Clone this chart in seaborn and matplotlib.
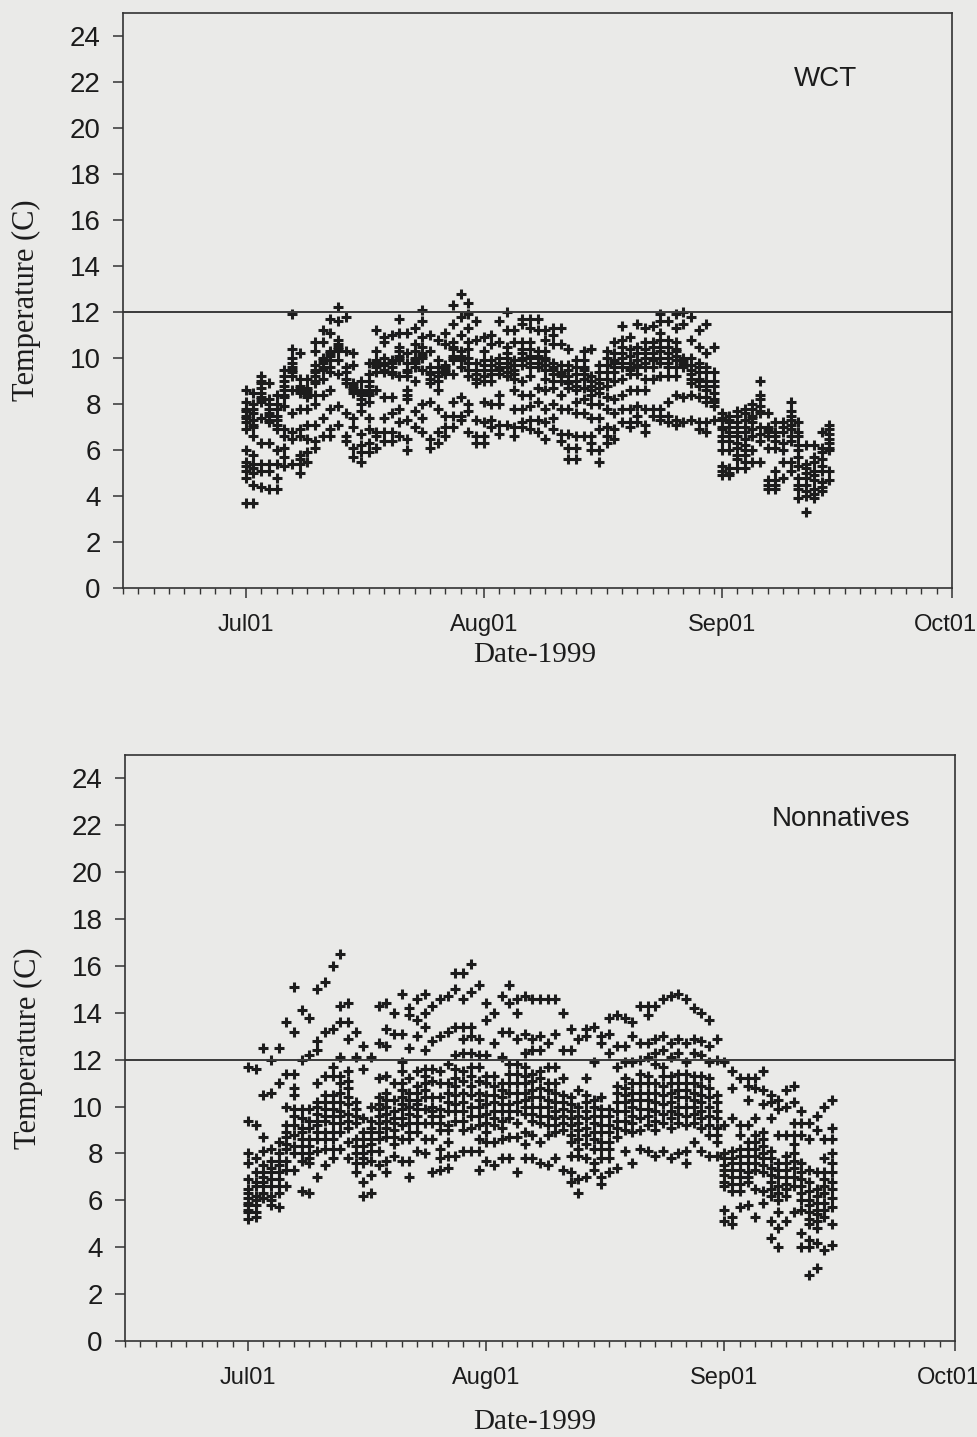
import numpy as np
import pandas as pd
import matplotlib
matplotlib.use("Agg")
import matplotlib.pyplot as plt
import matplotlib.dates as mdates
from matplotlib.transforms import ScaledTranslation
import seaborn as sns

# ---------------- data (readings per day, deg C) ----------------
wct_july = [
    [8.6, 8.1, 7.8, 7.7, 7.5, 7.4, 7.2, 6.9, 6.0, 5.5, 5.3, 5.1, 4.8, 3.7],
    [8.5, 8.0, 7.8, 7.6, 7.3, 7.1, 7.0, 6.6, 5.8, 5.4, 5.2, 5.0, 4.5, 3.7],
    [9.2, 9.0, 8.9, 8.7, 8.5, 8.3, 8.2, 8.1, 7.4, 6.3, 5.4, 5.1, 4.4],
    [8.9, 8.2, 8.0, 7.8, 7.6, 7.5, 7.3, 7.2, 6.3, 5.4, 5.1, 4.3],
    [8.4, 8.0, 7.8, 7.5, 7.3, 7.1, 6.9, 6.0, 5.4, 4.8, 4.3],
    [9.5, 9.2, 9.0, 8.8, 8.6, 8.4, 8.3, 7.9, 6.9, 6.6, 6.1, 5.7, 5.3],
    [11.9, 10.4, 10.0, 9.8, 9.6, 9.5, 9.4, 9.2, 8.6, 7.6, 6.8, 6.5, 5.4],
    [10.2, 9.1, 8.8, 8.7, 8.6, 8.5, 7.8, 6.9, 6.6, 5.8, 5.6, 5.4, 5.0],
    [9.1, 8.7, 8.6, 8.5, 8.4, 8.3, 7.8, 7.1, 6.5, 5.9, 5.5],
    [10.7, 10.3, 9.7, 9.5, 9.4, 9.2, 9.0, 8.9, 8.4, 8.0, 7.1, 6.4, 6.1],
    [11.2, 10.7, 10.0, 9.9, 9.8, 9.6, 9.5, 9.1, 8.4, 7.4, 6.6],
    [11.7, 11.1, 10.3, 10.2, 10.1, 9.9, 9.6, 9.4, 8.6, 7.8, 6.9, 6.6],
    [12.2, 11.6, 10.8, 10.6, 10.5, 10.4, 10.3, 9.9, 9.3, 7.9, 7.1],
    [11.8, 10.3, 9.6, 9.4, 9.1, 8.9, 7.6, 6.6, 6.4],
    [10.2, 9.7, 8.9, 8.8, 8.7, 8.6, 8.5, 7.4, 7.0, 6.1, 5.7],
    [9.0, 8.6, 8.5, 8.4, 8.2, 8.0, 7.7, 6.7, 6.2, 5.9, 5.5],
    [9.8, 9.3, 9.0, 8.8, 8.6, 8.5, 8.4, 8.1, 7.4, 6.9, 6.3, 5.9],
    [11.2, 10.3, 9.9, 9.8, 9.7, 9.6, 9.4, 8.6, 6.8, 6.6, 6.1],
    [10.9, 10.7, 10.0, 9.8, 9.7, 9.5, 9.4, 8.3, 7.4, 6.8, 6.4],
    [11.0, 9.9, 9.8, 9.6, 9.4, 9.3, 8.3, 7.6, 6.8, 6.4],
    [11.7, 11.1, 10.5, 10.3, 10.1, 10.0, 9.9, 9.2, 7.8, 7.2, 6.6],
    [11.1, 10.2, 9.8, 9.5, 9.4, 9.2, 8.6, 8.4, 8.2, 7.3, 6.5, 6.0],
    [11.3, 10.6, 10.3, 10.0, 9.9, 9.8, 9.6, 9.0, 7.7, 7.0],
    [12.1, 11.6, 10.9, 10.5, 10.2, 10.1, 10.0, 9.5, 8.0, 7.4, 6.8],
    [11.0, 10.3, 9.6, 9.4, 9.3, 9.1, 8.9, 8.1, 6.5, 6.1],
    [10.8, 9.9, 9.6, 9.4, 9.2, 9.0, 8.6, 7.8, 6.8, 6.3],
    [11.1, 10.6, 9.7, 9.6, 9.5, 9.4, 9.3, 7.5, 7.0, 6.6],
    [12.3, 11.5, 10.7, 10.5, 10.4, 10.1, 10.0, 9.9, 9.3, 8.1, 7.5, 7.0],
    [12.8, 11.8, 11.0, 10.3, 10.1, 10.0, 9.9, 9.6, 8.3, 7.5, 7.3],
    [12.4, 11.9, 11.3, 10.7, 10.4, 10.0, 9.8, 9.5, 9.2, 8.0, 7.7, 6.8],
    [11.6, 10.8, 9.8, 9.5, 9.3, 9.1, 8.9, 7.3, 6.6, 6.3],
]
wct_august = [
    [10.9, 10.3, 9.9, 9.7, 9.5, 9.2, 9.0, 8.1, 7.2, 6.6, 6.3],
    [11.0, 10.6, 9.9, 9.7, 9.5, 9.3, 9.0, 8.0, 7.3, 7.0],
    [11.6, 10.7, 10.0, 9.8, 9.6, 9.5, 9.3, 8.4, 8.0, 7.1, 6.7],
    [12.0, 11.2, 10.5, 10.2, 10.0, 9.8, 9.6, 9.4, 9.2, 7.1],
    [11.2, 10.7, 9.9, 9.7, 9.5, 9.3, 9.1, 8.6, 7.8, 7.0, 6.6],
    [11.7, 11.5, 10.7, 10.4, 10.2, 10.0, 9.9, 9.7, 9.0, 8.4, 7.8, 7.2, 7.0],
    [11.7, 11.3, 10.7, 10.4, 10.1, 10.0, 9.8, 9.6, 9.2, 8.4, 7.9, 7.3, 6.9],
    [11.7, 11.2, 10.3, 10.1, 10.0, 9.8, 9.6, 8.7, 8.1, 7.3, 6.8],
    [11.2, 10.8, 10.3, 10.0, 9.9, 9.7, 9.5, 9.1, 8.6, 7.8, 7.2, 6.5],
    [11.3, 11.0, 10.6, 9.8, 9.6, 9.5, 9.3, 9.0, 8.7, 8.0, 7.4, 6.9],
    [11.3, 10.6, 9.7, 9.4, 9.3, 9.2, 9.0, 8.4, 7.8, 6.7, 6.4],
    [10.4, 9.7, 9.5, 9.2, 9.0, 8.9, 8.7, 7.8, 6.7, 6.1, 5.6],
    [9.9, 9.6, 9.3, 9.0, 8.8, 8.6, 8.1, 7.6, 6.6, 6.1, 5.6],
    [10.3, 9.9, 9.6, 9.5, 9.3, 9.1, 8.7, 8.2, 7.6, 6.6],
    [10.4, 9.2, 9.0, 8.8, 8.6, 8.4, 8.0, 7.4, 6.6, 6.3, 6.0],
    [9.7, 9.4, 9.1, 8.9, 8.7, 8.5, 8.0, 7.4, 6.9, 6.0, 5.5],
    [10.3, 10.0, 9.7, 9.4, 9.1, 8.8, 8.3, 7.8, 7.0, 6.6, 6.3],
    [10.7, 10.2, 9.9, 9.8, 9.6, 9.4, 9.0, 8.2, 7.6, 6.9, 6.5],
    [11.4, 10.8, 10.5, 10.2, 10.0, 9.8, 9.6, 9.1, 8.4, 7.8, 7.2],
    [10.9, 10.4, 10.1, 9.8, 9.6, 9.5, 9.3, 8.6, 7.8, 7.2, 7.0],
    [11.5, 10.5, 10.2, 9.9, 9.7, 9.6, 9.3, 8.6, 7.9, 7.5, 7.2],
    [11.3, 10.7, 10.4, 10.2, 10.0, 9.8, 9.6, 9.1, 8.6, 7.8, 7.1, 6.8],
    [11.4, 10.7, 10.5, 10.2, 10.0, 9.9, 9.6, 9.1, 7.8, 7.5],
    [11.9, 11.6, 11.1, 10.8, 10.5, 10.3, 10.0, 9.8, 9.2, 7.8, 7.5, 7.3],
    [11.6, 10.8, 10.5, 10.2, 10.0, 9.8, 9.6, 9.2, 8.1, 7.5, 7.2],
    [11.9, 11.3, 10.7, 10.4, 10.3, 10.1, 9.9, 9.6, 9.2, 8.4, 7.3, 7.1],
    [12.0, 11.5, 10.0, 9.9, 9.8, 9.7, 9.6, 8.3, 7.2],
    [11.8, 10.8, 10.0, 9.7, 9.5, 9.3, 9.1, 8.9, 8.4, 7.3],
    [11.2, 10.5, 9.8, 9.6, 9.4, 9.1, 9.0, 8.8, 8.3, 7.2, 6.9],
    [11.5, 10.2, 9.6, 9.4, 9.0, 8.8, 8.6, 8.3, 8.1, 7.2, 6.8],
    [10.5, 9.4, 9.0, 8.8, 8.5, 8.2, 8.1, 7.9, 7.3],
]
wct_september = [
    [7.6, 7.4, 7.3, 7.0, 6.9, 6.6, 6.4, 6.0, 5.3, 5.1, 4.9],
    [7.5, 7.3, 7.2, 7.0, 6.8, 6.6, 6.4, 6.0, 5.2, 5.0, 4.9],
    [7.7, 7.5, 7.2, 7.0, 6.8, 6.6, 6.3, 6.1, 5.8, 5.6, 5.2],
    [7.8, 7.6, 7.3, 7.0, 6.8, 6.5, 6.2, 6.0, 5.8, 5.5, 5.2],
    [8.0, 7.8, 7.5, 7.4, 7.2, 6.9, 6.6, 6.0, 5.5],
    [9.0, 8.4, 8.2, 7.9, 7.7, 7.6, 7.0, 6.7, 6.4, 5.5],
    [7.6, 7.0, 6.9, 6.8, 6.6, 6.1, 4.7, 4.5, 4.3],
    [7.2, 6.8, 6.6, 6.4, 6.1, 5.1, 4.7, 4.5, 4.3],
    [7.2, 7.0, 6.8, 6.3, 6.0, 5.5, 4.8],
    [8.1, 7.7, 7.5, 7.3, 7.1, 6.9, 6.6, 6.4, 5.5, 5.1],
    [7.2, 6.8, 6.6, 6.2, 6.0, 5.7, 5.3, 4.8, 4.5, 4.3, 3.9],
    [6.2, 5.4, 5.2, 5.0, 4.8, 4.5, 4.2, 4.0, 3.3],
    [6.2, 5.7, 5.5, 5.1, 4.9, 4.7, 4.3, 4.1, 3.9],
    [6.8, 6.1, 5.9, 5.6, 5.3, 5.1, 4.6, 4.4, 4.2],
    [7.1, 6.9, 6.7, 6.5, 6.3, 6.1, 6.0, 5.1, 4.7],
]

non_july = [
    [11.7, 9.4, 8.0, 7.6, 6.9, 6.5, 6.3, 6.1, 5.9, 5.8, 5.6, 5.5, 5.2],
    [11.6, 9.2, 7.8, 7.2, 6.8, 6.6, 6.2, 6.0, 5.8, 5.5, 5.3],
    [12.5, 10.5, 8.7, 8.1, 7.5, 7.2, 7.0, 6.8, 6.6, 6.3, 6.1],
    [12.0, 10.6, 8.2, 7.7, 7.4, 7.2, 6.9, 6.6, 6.2, 6.0, 5.8],
    [12.5, 11.0, 8.5, 8.0, 7.7, 7.5, 7.2, 6.9, 6.6, 6.3, 5.7],
    [13.6, 11.4, 10.0, 9.2, 8.9, 8.7, 8.4, 8.2, 7.7, 7.3, 6.6],
    [15.1, 13.2, 11.4, 10.8, 10.5, 9.9, 9.6, 9.2, 8.8, 8.3, 8.0, 7.3],
    [14.1, 12.0, 9.9, 9.5, 9.1, 8.9, 8.6, 8.3, 8.0, 7.7, 6.4],
    [13.8, 12.2, 9.9, 9.4, 9.1, 8.6, 8.3, 8.0, 7.8, 7.6, 6.3],
    [15.0, 12.8, 12.4, 11.0, 10.2, 10.0, 9.7, 9.4, 9.2, 8.9, 8.6, 8.1, 7.0],
    [15.3, 13.2, 11.3, 10.5, 10.2, 9.9, 9.6, 9.4, 8.9, 8.6, 8.2, 7.5],
    [16.0, 13.3, 11.7, 11.3, 10.5, 10.2, 9.9, 9.6, 9.3, 8.9, 8.6, 8.2, 7.8],
    [16.5, 14.3, 13.6, 12.1, 11.3, 11.0, 10.6, 10.2, 9.8, 9.6, 9.3, 8.9, 8.2],
    [14.4, 13.6, 12.9, 11.5, 11.1, 10.8, 10.4, 10.1, 9.7, 9.4, 9.1, 8.5, 7.8],
    [13.2, 12.1, 10.2, 9.9, 9.6, 9.3, 8.6, 8.3, 8.0, 7.6, 7.2],
    [12.6, 11.6, 9.5, 8.9, 8.6, 8.3, 8.0, 7.8, 7.6, 6.8, 6.2],
    [12.1, 10.0, 9.4, 9.1, 8.9, 8.6, 8.4, 8.1, 7.7, 7.1, 6.3],
    [14.3, 12.7, 11.2, 10.4, 10.1, 9.9, 9.6, 9.3, 8.9, 8.6, 8.1, 7.5],
    [14.4, 13.3, 12.6, 11.3, 10.6, 10.3, 10.0, 9.7, 9.4, 9.1, 8.7, 7.7, 7.2],
    [14.0, 13.1, 11.0, 10.3, 9.8, 9.5, 9.3, 9.0, 8.7, 8.4, 7.9],
    [14.8, 13.1, 11.9, 11.5, 11.0, 10.7, 10.4, 10.1, 9.9, 9.5, 9.2, 8.6, 7.7],
    [14.2, 13.9, 12.5, 11.2, 10.6, 10.3, 10.0, 9.7, 9.3, 8.9, 8.6, 7.7, 7.0],
    [14.6, 13.7, 13.0, 11.5, 10.9, 10.6, 10.3, 10.1, 9.9, 9.6, 9.3, 8.9, 8.1],
    [14.8, 14.0, 13.4, 12.4, 11.6, 11.3, 11.0, 10.7, 10.4, 9.9, 9.3, 8.6, 8.0],
    [14.3, 12.8, 11.6, 11.1, 10.4, 10.0, 9.8, 9.6, 9.3, 8.6, 7.2],
    [14.6, 13.0, 11.5, 11.0, 10.4, 9.9, 9.6, 9.3, 9.0, 8.2, 7.8, 7.3],
    [14.7, 13.2, 11.8, 11.0, 10.6, 10.2, 9.8, 9.2, 9.0, 8.5, 7.9, 7.4],
    [15.7, 15.0, 13.4, 12.2, 11.6, 11.2, 10.9, 10.5, 10.1, 9.8, 9.4, 7.9],
    [15.7, 14.6, 13.4, 12.9, 12.3, 11.5, 11.1, 10.6, 10.2, 9.8, 9.4, 9.0, 8.1],
    [16.1, 14.9, 13.4, 13.0, 12.3, 11.7, 11.3, 10.9, 10.5, 10.0, 9.6, 9.1, 8.1],
    [15.2, 12.9, 12.2, 11.7, 11.1, 10.6, 10.3, 10.0, 9.6, 9.2, 8.6, 8.1, 7.3],
]
non_august = [
    [14.4, 13.7, 12.2, 11.3, 11.0, 10.5, 10.1, 9.7, 9.3, 8.9, 8.5, 7.7],
    [14.0, 12.7, 11.3, 10.9, 10.5, 10.2, 9.8, 9.5, 9.2, 8.5, 7.5],
    [14.7, 13.2, 12.1, 11.0, 10.7, 10.4, 10.1, 9.8, 9.4, 9.1, 8.6, 7.8],
    [15.2, 14.4, 13.2, 11.8, 11.4, 11.0, 10.6, 10.1, 9.8, 9.5, 8.7, 7.8],
    [14.6, 14.0, 12.9, 11.8, 11.4, 11.0, 10.6, 10.2, 9.8, 9.3, 8.7, 7.2],
    [14.7, 13.1, 12.3, 11.7, 11.3, 11.0, 10.6, 10.3, 10.0, 9.7, 8.9, 8.4, 7.8],
    [14.6, 12.9, 12.4, 11.4, 11.1, 10.7, 10.4, 10.0, 9.7, 9.4, 8.8, 7.8],
    [14.6, 13.0, 12.4, 11.5, 11.2, 10.8, 10.4, 10.0, 9.6, 9.3, 8.5, 7.6],
    [14.6, 12.7, 11.7, 11.0, 10.7, 10.3, 10.0, 9.6, 9.2, 8.8, 7.5],
    [14.6, 13.1, 11.7, 11.0, 10.6, 10.2, 9.8, 9.5, 9.2, 8.9, 7.8],
    [14.0, 12.4, 11.2, 10.5, 10.2, 9.9, 9.6, 9.3, 9.0, 7.3],
    [13.3, 12.4, 10.4, 10.1, 9.8, 9.5, 9.2, 8.8, 8.5, 7.9, 7.2, 6.8],
    [12.9, 10.7, 10.0, 9.6, 9.3, 9.0, 8.6, 8.2, 7.9, 6.9, 6.3],
    [13.3, 13.0, 11.2, 10.5, 10.2, 9.8, 9.5, 9.1, 8.8, 8.4, 7.8, 7.0],
    [13.4, 11.9, 10.3, 10.0, 9.6, 9.3, 8.9, 8.6, 8.2, 7.6, 7.3],
    [13.0, 12.7, 10.4, 9.9, 9.6, 9.2, 8.9, 8.5, 8.2, 7.8, 7.0, 6.7],
    [13.8, 13.1, 12.3, 9.9, 9.6, 9.2, 8.9, 8.5, 8.2, 7.8, 7.2],
    [13.9, 12.6, 11.7, 10.9, 10.6, 10.2, 9.8, 9.4, 9.1, 8.7, 7.4],
    [13.8, 12.6, 11.9, 11.2, 10.8, 10.5, 10.2, 9.8, 9.4, 9.0, 8.1],
    [13.6, 13.0, 11.9, 11.0, 10.6, 10.3, 10.0, 9.6, 9.3, 8.9, 7.6],
    [14.3, 12.7, 12.0, 11.4, 11.0, 10.6, 10.3, 9.9, 9.5, 9.0, 8.2],
    [14.3, 13.9, 12.7, 12.1, 11.3, 11.0, 10.6, 10.3, 9.9, 9.6, 9.2, 8.1],
    [14.3, 12.9, 12.3, 11.8, 11.0, 10.6, 10.2, 9.8, 9.4, 9.0, 7.9],
    [14.6, 13.0, 12.4, 11.7, 11.3, 10.9, 10.5, 10.1, 9.7, 9.3, 8.1],
    [14.7, 12.7, 12.1, 11.3, 11.0, 10.6, 10.2, 9.8, 9.5, 9.1, 7.8],
    [14.8, 12.9, 12.3, 11.4, 11.0, 10.7, 10.4, 10.0, 9.7, 9.3, 8.0],
    [14.6, 12.7, 11.9, 11.4, 11.0, 10.7, 10.4, 10.0, 9.6, 9.2, 8.1, 7.6],
    [14.2, 12.9, 12.3, 11.3, 11.0, 10.6, 10.3, 10.0, 9.7, 9.3, 8.5],
    [14.0, 12.8, 12.2, 11.3, 10.9, 10.5, 10.2, 9.8, 9.5, 9.1, 8.1],
    [13.7, 12.6, 11.9, 11.2, 10.8, 10.4, 10.0, 9.6, 9.2, 8.8, 7.9],
    [12.9, 12.0, 10.5, 10.2, 9.8, 9.5, 9.1, 8.8, 8.5, 7.9],
]
non_september = [
    [11.9, 9.2, 8.0, 7.8, 7.5, 7.3, 7.1, 6.8, 6.6, 5.6, 5.1],
    [11.5, 10.8, 9.5, 8.1, 7.8, 7.6, 7.3, 7.0, 6.7, 6.4, 5.3, 5.0],
    [11.2, 9.2, 8.8, 8.2, 7.9, 7.6, 7.3, 7.0, 6.7, 6.4, 5.7],
    [11.2, 10.9, 10.3, 9.2, 8.5, 8.2, 7.9, 7.6, 7.2, 7.0, 6.8, 5.8],
    [11.2, 10.8, 9.5, 8.8, 8.5, 8.2, 7.9, 7.6, 7.3, 6.5, 5.3],
    [11.5, 10.7, 10.1, 8.9, 8.6, 8.3, 8.0, 7.8, 7.5, 7.2, 6.4, 5.9],
    [10.5, 10.2, 9.5, 8.1, 7.8, 7.4, 7.1, 6.8, 6.5, 6.2, 5.1, 4.4],
    [10.3, 9.9, 8.8, 7.6, 7.3, 7.0, 6.6, 6.3, 6.0, 5.5, 4.8, 4.0],
    [10.7, 10.0, 8.8, 7.9, 7.6, 7.3, 7.0, 6.7, 6.5, 6.2, 5.1],
    [10.9, 10.2, 9.3, 8.8, 8.4, 8.0, 7.7, 7.4, 7.0, 6.6, 5.5],
    [9.8, 9.3, 8.8, 7.6, 7.2, 6.9, 6.6, 6.3, 6.0, 5.6, 4.6, 4.0],
    [9.3, 8.6, 7.3, 6.8, 6.4, 6.0, 5.8, 5.5, 5.2, 5.0, 4.3, 4.0, 2.8],
    [9.6, 9.0, 7.2, 6.5, 6.2, 5.9, 5.6, 5.4, 5.1, 4.8, 4.2, 3.1],
    [10.0, 8.6, 7.8, 7.2, 6.9, 6.6, 6.3, 5.9, 5.6, 5.3, 3.9],
    [10.3, 9.1, 8.6, 8.0, 7.6, 7.2, 6.8, 6.5, 6.1, 5.7, 5.0, 4.1],
]

panel_titles = ["WCT", "Nonnatives"]
threshold = 12
y_ticks = list(range(0, 25, 2))
x_label = "Date-1999"
y_label = "Temperature (C)"


def to_frame(*months):
    days = [d for m in months for d in m]
    start = pd.Timestamp("1999-07-01")
    rows = []
    for i, vals in enumerate(days):
        date = start + pd.Timedelta(days=i)
        for v in vals:
            rows.append((date, v))
    return pd.DataFrame(rows, columns=["date", "temp"])


df_wct = to_frame(wct_july, wct_august, wct_september)
df_non = to_frame(non_july, non_august, non_september)

# ---------------- style ----------------
sns.set_theme(style="ticks")
bg = "#eaeae8"
ink = "#1c1c1c"
plt.rcParams["font.family"] = ["Liberation Sans", "DejaVu Sans"]

fig = plt.figure(figsize=(9.78, 14.37), dpi=100, facecolor=bg)
W, H = 978, 1437
axes_px = [(123, 13, 952, 588), (125, 755, 955, 1341)]
text_pos = [(826, 79), (841, 819)]
xlabel_y = [655, 1422]

for k, (df, title) in enumerate([(df_wct, panel_titles[0]), (df_non, panel_titles[1])]):
    l, t, r, b = axes_px[k]
    ax = fig.add_axes([l / W, 1 - b / H, (r - l) / W, (b - t) / H])
    ax.set_facecolor(bg)
    sns.scatterplot(data=df, x="date", y="temp", marker="+", s=44,
                    linewidth=2.2, color=ink, ax=ax, legend=False)
    ax.axhline(threshold, color="#3a3a3a", lw=1.4, zorder=1)
    ax.set_xlim(pd.Timestamp("1999-06-15"), pd.Timestamp("1999-10-01"))
    ax.set_ylim(0, 25)
    ax.set_yticks(y_ticks)
    ax.xaxis.set_major_locator(mdates.MonthLocator())
    ax.xaxis.set_major_formatter(mdates.DateFormatter("%b%d"))
    ax.xaxis.set_minor_locator(mdates.DayLocator(bymonthday=range(1, 32, 2)))
    ax.tick_params(axis="y", which="major", length=7, width=1.1, color="#333333",
                   labelsize=20, pad=9, labelcolor=ink)
    ax.tick_params(axis="x", which="major", length=7, width=1.1, color="#333333",
                   labelsize=17, pad=12, labelcolor=ink)
    ax.tick_params(axis="x", which="minor", length=4, width=1.0, color="#333333")
    for sp in ax.spines.values():
        sp.set_color("#333333")
        sp.set_linewidth(1.2)
    ax.set_xlabel("")
    ax.set_ylabel(y_label, family=["Liberation Serif", "DejaVu Serif"],
                  fontsize=22, color=ink, labelpad=21)
    ax.text((text_pos[k][0] - l) / (r - l), 1 - (text_pos[k][1] - t) / (b - t), title,
            transform=ax.transAxes, ha="center", va="center", fontsize=20, color=ink)
    fig.text(535 / W, 1 - xlabel_y[k] / H, x_label, ha="center", va="center",
             family=["Liberation Serif", "DejaVu Serif"], fontsize=21, color=ink)
    fig.canvas.draw()
    last = ax.get_xticklabels()[-1]
    last.set_transform(last.get_transform() + ScaledTranslation(-7 / 100, 0, fig.dpi_scale_trans))

fig.savefig("out.png", dpi=100, facecolor=bg)
